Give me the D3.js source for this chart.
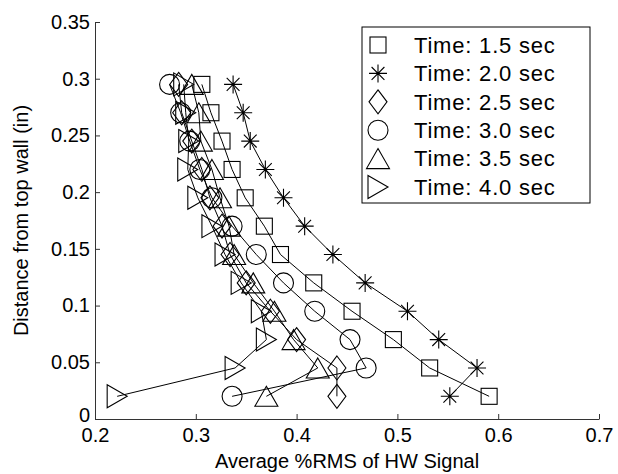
<!DOCTYPE html>
<html lang="en">
<head>
    <meta charset="UTF-8">
    <title>Average %RMS of HW Signal</title>
    <style>
        body{ margin: 0; background: #fff; }
        text{ font-family: "Liberation Sans", Arial, sans-serif; }
        .axis path, .axis line{ stroke: #333; }
        .axis text{ font-size: 20px; fill: #000; }
    </style>
</head>
<body>
    <svg width="618" height="474"></svg>
    <script src="https://cdn.jsdelivr.net/npm/d3@7"></script>
    <script>
        // distance levels, top to bottom
        var depths = [0.295, 0.27, 0.245, 0.22, 0.195, 0.17, 0.145, 0.12, 0.095, 0.07, 0.045, 0.02];

        var t15 = [0.306, 0.315, 0.326, 0.336, 0.349, 0.368, 0.384, 0.417, 0.455, 0.496, 0.532, 0.591];
        var t20 = [0.337, 0.347, 0.354, 0.369, 0.387, 0.408, 0.436, 0.468, 0.510, 0.541, 0.579, 0.552];
        var t25 = [0.283, 0.286, 0.296, 0.306, 0.314, 0.326, 0.334, 0.350, 0.374, 0.400, 0.440, 0.440];
        var t30 = [0.274, 0.285, 0.294, 0.304, 0.316, 0.336, 0.360, 0.387, 0.418, 0.453, 0.469, 0.336];
        var t35 = [0.296, 0.303, 0.305, 0.316, 0.324, 0.333, 0.338, 0.357, 0.378, 0.397, 0.421, 0.370];
        var t40 = [0.288, 0.290, 0.293, 0.292, 0.302, 0.316, 0.329, 0.345, 0.365, 0.370, 0.339, 0.222];

        var seriesNames = ["Time: 1.5 sec", "Time: 2.0 sec", "Time: 2.5 sec", "Time: 3.0 sec", "Time: 3.5 sec", "Time: 4.0 sec"];
        var markers = ["square", "star", "diamond", "circle", "triangle", "right"];

        var xTicks = [0.2, 0.3, 0.4, 0.5, 0.6, 0.7];
        var yTicks = [0, 0.05, 0.1, 0.15, 0.2, 0.25, 0.3, 0.35];

        var svg = d3.select("svg"),
            margin = {top: 22, right: 19, bottom: 55, left: 95},
            width = +svg.attr("width") - margin.left - margin.right,
            height = +svg.attr("height") - margin.top - margin.bottom,
            g = svg.append("g").attr("transform", "translate(" + margin.left + "," + margin.top + ")");

        var x = d3.scaleLinear().domain([0.2, 0.7]).range([0, width]);
        var y = d3.scaleLinear().domain([0, 0.35]).range([height, 0]);

        var allSeries = [t15, t20, t25, t30, t35, t40].map(function(vals, i){
            return {name: seriesNames[i], marker: markers[i],
                    points: vals.map(function(v, j){ return {x: v, y: depths[j]}; })};
        });

        // axes, ticks pointing inward like matlab
        g.append("g")
            .attr("class", "axis")
            .attr("transform", "translate(0," + height + ")")
            .call(d3.axisBottom(x).tickValues(xTicks).tickSizeInner(-5).tickSizeOuter(0).tickPadding(9)
                .tickFormat(d3.format("")));

        var yAxis = g.append("g")
            .attr("class", "axis")
            .call(d3.axisLeft(y).tickValues(yTicks).tickSizeInner(-5).tickSizeOuter(0).tickPadding(5)
                .tickFormat(function(d){ return d === 0 ? "0" : d3.format("")(d); }));
        // the "0" label sits a bit higher so it clears the 0.2 below it
        yAxis.selectAll(".tick text").filter(function(d){ return d === 0; }).attr("dy", "0.1em");

        // marker drawing
        function drawMarker(sel, type){
            sel.each(function(){
                var m = d3.select(this);
                if (type === "square"){
                    m.append("rect").attr("x", -8).attr("y", -8).attr("width", 16).attr("height", 16);
                } else if (type === "circle"){
                    m.append("circle").attr("r", 10);
                } else if (type === "diamond"){
                    m.append("path").attr("d", "M0,-12L9,0L0,12L-9,0Z");
                } else if (type === "triangle"){
                    m.append("path").attr("d", "M0,-10L11.5,10L-11.5,10Z");
                } else if (type === "right"){
                    m.append("path").attr("d", "M-10,-11.5L10,0L-10,11.5Z");
                } else if (type === "star"){
                    m.append("path").attr("d", "M-9,0L9,0M0,-9L0,9M-6.4,-6.4L6.4,6.4M-6.4,6.4L6.4,-6.4");
                }
            });
            sel.selectAll("*").attr("fill", "none").attr("stroke", "#000").attr("stroke-width", 1.1);
        }

        var line = d3.line()
            .x(function(d){ return x(d.x); })
            .y(function(d){ return y(d.y); });

        var serie = g.selectAll(".serie")
            .data(allSeries)
            .enter().append("g")
            .attr("class", "serie");

        serie.append("path")
            .attr("d", function(d){ return line(d.points); })
            .attr("fill", "none")
            .attr("stroke", "#000")
            .attr("stroke-width", 1);

        serie.each(function(s){
            var pts = d3.select(this).selectAll(".pt")
                .data(s.points)
                .enter().append("g")
                .attr("class", "pt")
                .attr("transform", function(d){ return "translate(" + x(d.x) + "," + y(d.y) + ")"; });
            drawMarker(pts, s.marker);
        });

        // axis titles
        svg.append("text")
            .attr("x", margin.left + width / 2)
            .attr("y", 468)
            .attr("text-anchor", "middle")
            .style("font-size", "20px")
            .text("Average %RMS of HW Signal");

        svg.append("text")
            .attr("transform", "translate(28," + (margin.top + height / 2) + ") rotate(-90)")
            .attr("text-anchor", "middle")
            .style("font-size", "20px")
            .text("Distance from top wall (in)");

        // legend
        var legend = svg.append("g").attr("transform", "translate(362,27)");
        legend.append("rect")
            .attr("width", 228).attr("height", 176)
            .attr("fill", "#fff").attr("stroke", "#000").attr("stroke-width", 1);

        var item = legend.selectAll(".item")
            .data(allSeries)
            .enter().append("g")
            .attr("class", "item")
            .attr("transform", function(d, i){ return "translate(0," + (18 + i * 28.4) + ")"; });

        item.each(function(s){
            var mk = d3.select(this).append("g").attr("transform", "translate(16,0)");
            drawMarker(mk, s.marker);
        });

        item.append("text")
            .attr("x", 52)
            .attr("dy", "0.35em")
            .style("font-size", "22px")
            .style("letter-spacing", "0.8px")
            .text(function(d){ return d.name; });
    </script>
</body>
</html>
